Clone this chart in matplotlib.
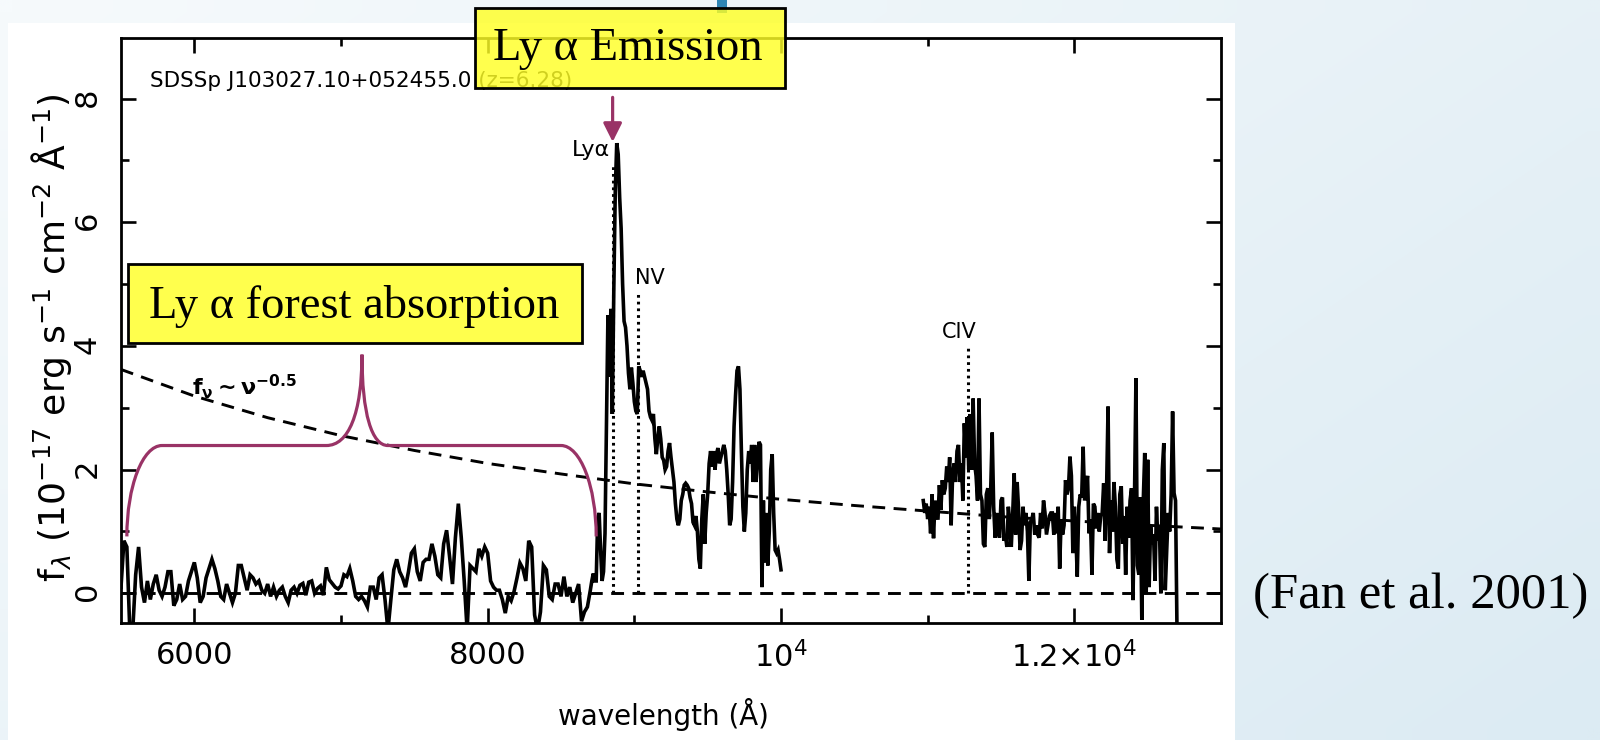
import numpy as np
import matplotlib.pyplot as plt
from matplotlib.patches import Rectangle, PathPatch
from matplotlib.path import Path

# ---- spectrum, values (flux in 1e-17 erg/s/cm2/A) ----
# Lya forest, 5500-8680 A every 20 A
forest_start, forest_step = 5500, 20
forest_flux = [
    0.10, 0.85, 0.75, -0.60, -0.60, 0.30, 0.75, 0.10, -0.15, 0.20,
    -0.10, 0.15, 0.30, 0.05, -0.05, 0.10, 0.35, 0.35, -0.20, -0.10,
    0.15, -0.10, -0.05, 0.20, 0.35, 0.50, 0.25, -0.15, -0.05, 0.25,
    0.40, 0.55, 0.40, 0.20, -0.05, -0.10, 0.15, 0.00, -0.15, 0.00,
    0.45, 0.45, 0.25, 0.05, 0.30, 0.25, 0.15, 0.20, 0.05, 0.00,
    0.15, -0.05, 0.10, -0.05, 0.05, 0.10, -0.05, -0.15, 0.05, 0.10,
    0.00, 0.13, 0.16, -0.03, 0.18, 0.20, 0.00, 0.08, 0.12, -0.03,
    0.42, 0.22, 0.16, 0.10, 0.07, 0.12, 0.30, 0.27, 0.40, 0.20,
    -0.05, -0.10, -0.05, -0.12, -0.22, 0.10, 0.10, -0.10, 0.25, 0.30,
    -0.10, -0.60, -0.10, 0.38, 0.55, 0.35, 0.25, 0.10, 0.35, 0.65,
    0.72, 0.35, 0.20, 0.50, 0.55, 0.55, 0.80, 0.60, 0.30, 0.25,
    0.80, 1.02, 0.60, 0.15, 0.90, 1.45, 0.90, 0.20, -0.60, 0.45,
    0.40, 0.35, 0.72, 0.60, 0.75, 0.65, 0.20, 0.10, 0.05, 0.05,
    -0.10, -0.32, -0.05, -0.12, 0.03, 0.25, 0.49, 0.40, 0.20, 0.85,
    0.75, -0.35, -0.60, -0.30, 0.45, 0.38, -0.05, -0.10, 0.15, 0.15,
    -0.05, 0.27, -0.05, 0.10, -0.15, 0.00, 0.15, -0.45, -0.30, -0.22,
]
# Lya + NV emission, 8700-10000 A every 10 A
red_start, red_step = 8700, 10
red_flux = [
    0.05, 0.20, 0.32, 0.20, 0.20, 1.20, 1.30, 0.70, 0.20, 0.35,
    0.97, 2.80, 4.50, 3.50, 4.60, 2.90, 4.90, 6.50, 7.28, 7.10,
    6.40, 5.90, 5.00, 4.40, 4.30, 4.00, 3.56, 3.30, 3.65, 3.40,
    3.10, 2.95, 2.90, 3.67, 3.60, 3.50, 3.60, 3.50, 3.40, 3.30,
    2.95, 2.85, 2.80, 2.90, 2.50, 2.25, 2.50, 2.70, 2.50, 2.20,
    2.15, 2.00, 2.05, 2.30, 2.43, 2.20, 2.00, 1.80, 1.45, 1.20,
    1.10, 1.20, 1.50, 1.60, 1.75, 1.78, 1.75, 1.70, 1.55, 1.45,
    1.15, 1.10, 1.25, 1.00, 0.55, 0.40, 1.20, 1.60, 0.80, 1.30,
    1.60, 2.10, 2.30, 2.05, 2.30, 2.00, 2.25, 2.35, 2.10, 2.20,
    2.30, 2.40, 2.30, 2.00, 1.60, 1.10, 1.20, 1.80, 2.70, 3.20,
    3.60, 3.67, 3.30, 2.30, 1.40, 1.00, 1.30, 2.00, 2.30, 2.10,
    2.40, 1.80, 2.40, 1.80, 2.10, 2.45, 2.40, 0.10, 1.50, 0.50,
    1.30, 0.45, 1.00, 2.00, 2.25, 1.30, 0.70, 0.65, 0.70, 0.55,
    0.38,
]
# CIV region, 10970-12700 A every 10 A
ir_start, ir_step = 10970, 10
ir_flux = [
    1.50, 1.30, 1.45, 1.20, 1.40, 0.97, 1.60, 0.89, 1.50, 1.35,
    1.19, 1.75, 1.35, 1.83, 1.60, 1.70, 2.05, 1.80, 2.20, 1.10,
    1.90, 2.10, 1.80, 2.30, 2.40, 1.80, 2.10, 1.50, 2.75, 2.20,
    2.85, 2.00, 2.90, 2.00, 3.15, 2.10, 1.90, 1.50, 3.15, 1.60,
    1.50, 0.80, 0.75, 1.60, 1.70, 1.20, 1.70, 2.60, 1.40, 0.90,
    1.30, 1.00, 0.90, 1.50, 1.55, 0.85, 0.95, 0.75, 1.40, 1.15,
    0.75, 1.30, 1.94, 0.95, 1.80, 1.35, 0.70, 0.85, 1.40, 1.10,
    1.30, 1.00, 0.20, 1.15, 1.20, 1.30, 0.95, 1.10, 0.95, 0.90,
    1.30, 1.05, 1.50, 1.30, 0.95, 1.10, 1.25, 1.30, 1.30, 0.95,
    1.30, 0.97, 1.40, 0.40, 1.20, 0.95, 1.10, 1.83, 1.60, 1.70,
    2.21, 1.90, 0.65, 1.40, 0.97, 0.27, 1.40, 1.60, 1.55, 2.37,
    1.50, 1.70, 1.90, 0.97, 1.20, 0.30, 1.45, 1.40, 1.05, 1.30,
    1.00, 1.25, 1.30, 1.78, 0.85, 1.70, 3.02, 0.65, 1.50, 1.00,
    1.80, 1.40, 0.55, 0.40, 1.60, 1.73, 0.80, 1.25, 0.30, 1.40,
    0.90, 1.50, 1.70, -0.11, 1.50, 3.48, 0.45, 0.30, 1.55, -0.43,
    1.50, 2.27, 0.00, 2.16, 0.10, 1.10, 0.80, 0.95, 0.20, 1.40,
    0.85, 1.10, 0.00, 2.00, 2.43, 0.05, 0.70, 1.30, 1.00, 1.60,
    2.94, 1.62, 1.50, -0.60,
]

# f_nu ~ nu^-0.5 continuum as drawn
cont_wave = [5500, 6000, 6500, 7000, 7500, 8000, 8500, 9000,
             9500, 10000, 10500, 11000, 11500, 12000, 12500, 13000]
cont_flux = [3.62, 3.19, 2.84, 2.55, 2.31, 2.10, 1.93, 1.77,
             1.64, 1.52, 1.42, 1.33, 1.24, 1.17, 1.10, 1.04]

# marked emission lines
line_names = ['Lyα', 'NV', 'CIV']
line_waves = [8852, 9027, 11277]
line_tops = [6.93, 4.86, 3.99]

xticks = [6000, 8000, 10000, 12000]
xtick_labels = ['6000', '8000', r'$10^4$', r'$1.2{\times}10^4$']
yticks = [0, 2, 4, 6, 8]
title = 'SDSSp J103027.10+052455.0 (z=6.28)'

plt.rcParams['font.family'] = ['DejaVu Sans']
plt.rcParams['mathtext.fontset'] = 'dejavusans'

W, H = 1600, 740
PLUM = '#993366'
fig = plt.figure(figsize=(16, 7.4), dpi=100)

# slide background with the white panel holding the plot
bg = fig.add_axes([0, 0, 1, 1], zorder=0)
gx, gy = np.meshgrid(np.linspace(0, 1, 64), np.linspace(0, 1, 32))
t = 0.6 * gx + 0.4 * gy
c0 = np.array([246, 250, 252]) / 255
c1 = np.array([220, 235, 243]) / 255
bg.imshow(c0 + t[..., None] * (c1 - c0), extent=(0, W, H, 0),
          aspect='auto', interpolation='bilinear')
bg.add_patch(Rectangle((8, 23), 1227, 717, facecolor='white', edgecolor='none'))
bg.set_xlim(0, W)
bg.set_ylim(H, 0)
bg.axis('off')

ax = fig.add_axes([121 / W, 1 - 623 / H, 1100 / W, 585 / H], zorder=1)
ax.patch.set_visible(False)

dash = (0, (4.4, 2.9))
dots = (0, (0.9, 1.3))
ax.axhline(0, color='black', lw=2.1, ls=dash, zorder=2)
ax.plot(cont_wave, cont_flux, color='black', lw=2.1, ls=dash, zorder=2)
for name, w, top in zip(line_names, line_waves, line_tops):
    ax.plot([w, w], [0, top], color='black', lw=2.2, ls=dots, zorder=2)

w1 = np.concatenate([forest_start + forest_step * np.arange(len(forest_flux)),
                     red_start + red_step * np.arange(len(red_flux))])
ax.plot(w1, forest_flux + red_flux, color='black', lw=2.6, zorder=3,
        solid_joinstyle='miter')
w2 = ir_start + ir_step * np.arange(len(ir_flux))
ax.plot(w2, ir_flux, color='black', lw=2.6, zorder=3, solid_joinstyle='miter')

# labels for the lines
offsets = [(-20, 'right'), (-25, 'left'), (-65, 'center')]
sizes = [16, 15, 15]
for name, w, top, (dx, ha), fs in zip(line_names, line_waves, line_tops,
                                      offsets, sizes):
    ax.text(w + dx, top + 0.07, name, fontsize=fs, ha=ha, va='bottom')

ax.text(5700, 8.29, title, fontsize=15.5, ha='left', va='center', zorder=1)
ax.text(6345, 3.34, r'$\mathbf{f_\nu \sim \nu^{-0.5}}$', fontsize=16,
        ha='center', va='center')

ax.set_xlim(5500, 13000)
ax.set_ylim(-0.48, 8.98)
ax.set_xticks(xticks, xtick_labels)
ax.set_xticks([7000, 9000, 11000], minor=True)
ax.set_yticks(yticks)
ax.set_yticks([1, 3, 5, 7], minor=True)
ax.tick_params(which='both', direction='in', top=True, right=True, width=1.9)
ax.tick_params(which='major', length=10.5)
ax.tick_params(which='minor', length=5.5)
ax.tick_params(axis='x', labelsize=22, pad=13)
ax.tick_params(axis='y', labelsize=22, pad=14, labelrotation=90)
for s in ax.spines.values():
    s.set_linewidth(2.0)

ax.set_xlabel('wavelength (Å)', fontsize=20, va='center')
ax.xaxis.set_label_coords(0.493, -0.156)
ax.set_ylabel(r'f$_\lambda$ (10$^{-17}$ erg s$^{-1}$ cm$^{-2}$ Å$^{-1}$)',
              fontsize=26, va='center')
ax.yaxis.set_label_coords(-0.063, 0.487)

# curly brace over the forest and arrow onto the Lya peak
P = Path
brace = Path(
    [(5540, 0.92), (5540, 1.73), (5647, 2.39), (5780, 2.39),
     (6900, 2.39),
     (7050, 2.39), (7143, 2.9), (7143, 3.86),
     (7143, 2.9), (7210, 2.39), (7320, 2.39),
     (8500, 2.39),
     (8632, 2.39), (8740, 1.73), (8740, 0.92)],
    [P.MOVETO, P.CURVE4, P.CURVE4, P.CURVE4, P.LINETO,
     P.CURVE4, P.CURVE4, P.CURVE4, P.CURVE4, P.CURVE4, P.CURVE4,
     P.LINETO, P.CURVE4, P.CURVE4, P.CURVE4])
ax.add_patch(PathPatch(brace, facecolor='none', edgecolor=PLUM, lw=2.3,
                       zorder=5, clip_on=False))
ax.annotate('', xy=(line_waves[0], max(red_flux) + 0.02),
            xytext=(line_waves[0], 8.02),
            arrowprops=dict(arrowstyle='-|>', color=PLUM, lw=2.3,
                            mutation_scale=28, shrinkA=0, shrinkB=0),
            zorder=5)

# slide call-outs
ov = fig.add_axes([0, 0, 1, 1], zorder=2)
ov.set_xlim(0, W)
ov.set_ylim(H, 0)
ov.axis('off')
ov.add_patch(Rectangle((717, 0), 10, 13, facecolor='#2F86B4', edgecolor='none'))
callouts = [((475, 8, 785, 88), 'Ly α Emission', (628, 60)),
            ((128, 264, 582, 343), 'Ly α forest absorption', (354, 318))]
for (x0, y0, x1, y1), label, (tx, ty) in callouts:
    ov.add_patch(Rectangle((x0, y0), x1 - x0, y1 - y0,
                           facecolor=(1, 1, 0.15, 0.82), edgecolor='black', lw=2))
    ov.text(tx, ty, label, family='Liberation Serif', fontsize=33.5,
            ha='center', va='baseline')
ov.text(1421, 608, '(Fan et al. 2001)', family='Liberation Serif', fontsize=36.5,
        ha='center', va='baseline')

fig.savefig('out.png', dpi=100)
